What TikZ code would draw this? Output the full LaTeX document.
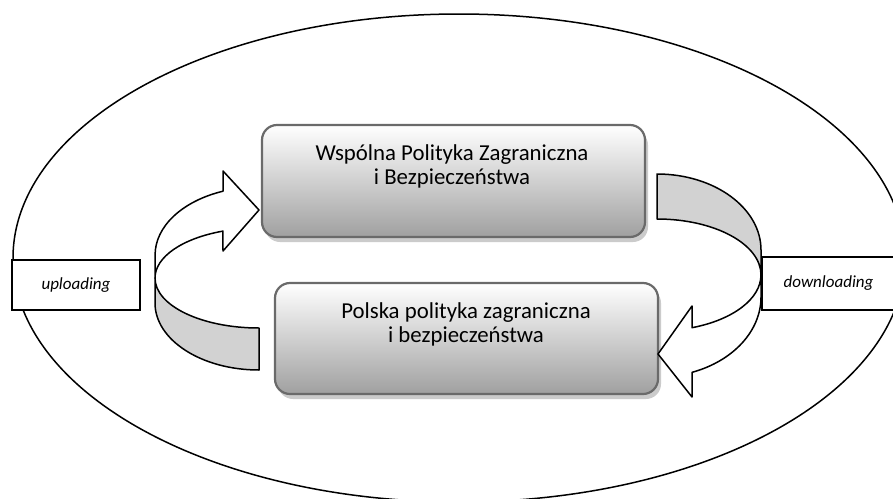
\documentclass[tikz,border=0pt]{standalone}
\usepackage{fontspec}
\setmainfont{Carlito}
\usetikzlibrary{shapes.geometric}
\definecolor{boxedge}{HTML}{6A6A6A}
\definecolor{boxbottom}{HTML}{A0A0A0}
\definecolor{ribbongrey}{HTML}{D2D2D2}
\definecolor{shadowgrey}{HTML}{CBCBCB}
\begin{document}
\begin{tikzpicture}[x=1pt,y=-1pt,
  policybox/.style={rectangle, rounded corners=15pt, draw=boxedge, line width=2.2pt,
    top color=white, bottom color=boxbottom, minimum width=383pt, minimum height=111pt, inner sep=0pt},
  boxtext/.style={align=center, font=\fontsize{22.8}{24}\selectfont, inner sep=0pt},
  labelbox/.style={rectangle, draw=black, line width=1.5pt, fill=white, inner sep=0pt,
    font=\fontsize{17}{19}\selectfont\itshape},
  frontface/.style={draw=black, line width=1.5pt, fill=white, line join=round},
  backface/.style={draw=black, line width=1.5pt, fill=ribbongrey, line join=round}]
\useasboundingbox (0,0) rectangle (893,498);
% frame ellipse
\begin{scope}
  \clip (0,0) rectangle (893,498);
  \node[draw=black, line width=1.5pt, ellipse, minimum width=892pt, minimum height=488pt, inner sep=0pt] (frame) at (459,258) {};
\end{scope}
% shadows
\fill[shadowgrey, rounded corners=15pt] (265,130) rectangle (648,242);
\fill[shadowgrey, rounded corners=15pt] (278,288) rectangle (661,399);
% policy boxes
\node[policybox, minimum height=112pt] (cfsp) at (453.5,181) {};
\node[policybox] (pfsp) at (466.5,338.5) {};
\node[boxtext] (cfsptext) at (452,166) {Wspólna Polityka Zagraniczna\\i Bezpieczeństwa};
\node[boxtext] (pfsptext) at (466,324) {Polska polityka zagraniczna\\i bezpieczeństwa};
% left curved arrow (uploading)
\path[backface] (155,278) -- (155,303)
  arc[start angle=180, end angle=90, x radius=104, y radius=67] -- (259,328)
  arc[start angle=90, end angle=180, x radius=104, y radius=50] -- cycle;
\path[frontface] (223,191.2)
  arc[start angle=249.7, end angle=180, x radius=104, y radius=68] -- (155,278)
  arc[start angle=180, end angle=249.7, x radius=104, y radius=50] -- (223,251) -- (259,210) -- (223,171) -- cycle;
% right curved arrow (downloading)
\path[backface] (657,174)
  arc[start angle=270, end angle=360, x radius=104, y radius=76] -- (761,275)
  arc[start angle=360, end angle=270, x radius=104, y radius=56] -- cycle;
\path[frontface] (761,275) -- (761,297)
  arc[start angle=0, end angle=70.3, x radius=104, y radius=80] -- (692,397) -- (658,354) -- (692,306) -- (692,327.7)
  arc[start angle=70.3, end angle=0, x radius=104, y radius=56] -- cycle;
% labels
\node[labelbox, minimum width=128pt, minimum height=50pt] (up) at (76,285) {uploading};
\node[labelbox, minimum width=133pt, minimum height=53pt] (down) at (828.5,283.5) {downloading};
\end{tikzpicture}
\end{document}
